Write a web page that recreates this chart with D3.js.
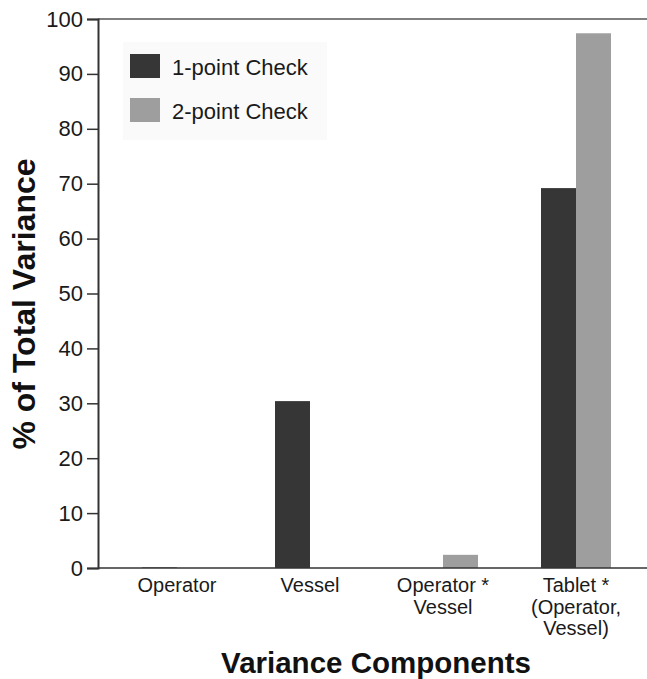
<!DOCTYPE html>
<html>
<head>
<meta charset="utf-8">
<script src="https://cdn.jsdelivr.net/npm/d3@7"></script>
<style>
  html, body { margin: 0; padding: 0; background: #fff; }
  svg { display: block; font-family: "Liberation Sans", Arial, Helvetica, sans-serif; }
</style>
</head>
<body>
<svg id="chart" width="647" height="679"></svg>
<script>
// ---- data ----
const categories = ["Operator", "Vessel", "Operator * Vessel", "Tablet * (Operator, Vessel)"];
const categoryLabelLines = [["Operator"], ["Vessel"], ["Operator *", "Vessel"], ["Tablet *", "(Operator,", "Vessel)"]];
const seriesNames = ["1-point Check", "2-point Check"];
const onePointValues = [0.1, 30.4, 0, 69.2];
const twoPointValues = [0, 0, 2.4, 97.4];
const yTicks = [0, 10, 20, 30, 40, 50, 60, 70, 80, 90, 100];
const yTitle = "% of Total Variance";
const xTitle = "Variance Components";

// ---- layout ----
const colors = { "1-point Check": "#363636", "2-point Check": "#9e9e9e" };
const svg = d3.select("#chart");
const axisLeftX = 98;
const yTop = 19, yBottom = 568;
const rightEdge = 647;

const y = d3.scaleLinear().domain([0, 100]).range([yBottom, yTop]);
const x = d3.scaleBand().domain(categories).range([110.5, 642.5]).padding(0);
const barW = 35;
const xs = d3.scaleBand().domain(seriesNames)
  .range([x.bandwidth() / 2 - barW, x.bandwidth() / 2 + barW]).padding(0);

const seriesValues = { "1-point Check": onePointValues, "2-point Check": twoPointValues };
const rows = [];
categories.forEach((c, i) => {
  seriesNames.forEach(s => rows.push({ cat: c, series: s, value: seriesValues[s][i] }));
});

// legend background
svg.append("rect").attr("x", 123).attr("y", 42).attr("width", 204).attr("height", 98)
  .attr("fill", "#fafafa");

// bars
svg.append("g").selectAll("rect").data(rows).join("rect")
  .attr("x", d => x(d.cat) + xs(d.series))
  .attr("width", xs.bandwidth())
  .attr("y", d => y(d.value))
  .attr("height", d => y(0) - y(d.value))
  .attr("fill", d => colors[d.series]);

// top frame line
svg.append("line").attr("x1", axisLeftX).attr("x2", rightEdge)
  .attr("y1", y(100)).attr("y2", y(100))
  .attr("stroke", "#555").attr("stroke-width", 1.5);

// x axis line
svg.append("line").attr("x1", axisLeftX).attr("x2", rightEdge)
  .attr("y1", y(0)).attr("y2", y(0))
  .attr("stroke", "#333").attr("stroke-width", 1.5);

// y axis
const yAxis = svg.append("g").attr("transform", `translate(${axisLeftX},0)`)
  .call(d3.axisLeft(y).tickValues(yTicks).tickSize(11).tickPadding(4).tickFormat(d3.format("d")));
yAxis.attr("font-size", null).attr("font-family", null);
yAxis.select(".domain").attr("stroke", "#333").attr("stroke-width", 2);
yAxis.selectAll(".tick line").attr("stroke", "#333").attr("stroke-width", 1.5);
yAxis.selectAll(".tick text").style("font-size", "22px").attr("fill", "#1a1a1a");

// category labels
const catG = svg.append("g");
categories.forEach((c, i) => {
  const t = catG.append("text")
    .attr("x", x(c) + x.bandwidth() / 2)
    .attr("y", 592)
    .attr("text-anchor", "middle")
    .style("font-size", "20px")
    .attr("fill", "#1a1a1a");
  categoryLabelLines[i].forEach((ln, j) => {
    t.append("tspan").attr("x", x(c) + x.bandwidth() / 2)
      .attr("dy", j === 0 ? 0 : 21.5).text(ln);
  });
});

// axis titles
svg.append("text")
  .attr("transform", `translate(35,304) rotate(-90)`)
  .attr("text-anchor", "middle")
  .style("font-size", "32px").attr("font-weight", "bold").attr("fill", "#111")
  .text(yTitle);
svg.append("text")
  .attr("x", 376).attr("y", 673)
  .attr("text-anchor", "middle")
  .style("font-size", "29.5px").attr("font-weight", "bold").attr("fill", "#111")
  .text(xTitle);

// legend
const legend = svg.append("g");
seriesNames.forEach((s, i) => {
  legend.append("rect").attr("x", 130).attr("y", 54 + i * 44)
    .attr("width", 30).attr("height", 24).attr("fill", colors[s]);
  legend.append("text").attr("x", 172).attr("y", 75 + i * 44)
    .style("font-size", "22px").attr("fill", "#1a1a1a").text(s);
});
</script>
</body>
</html>
